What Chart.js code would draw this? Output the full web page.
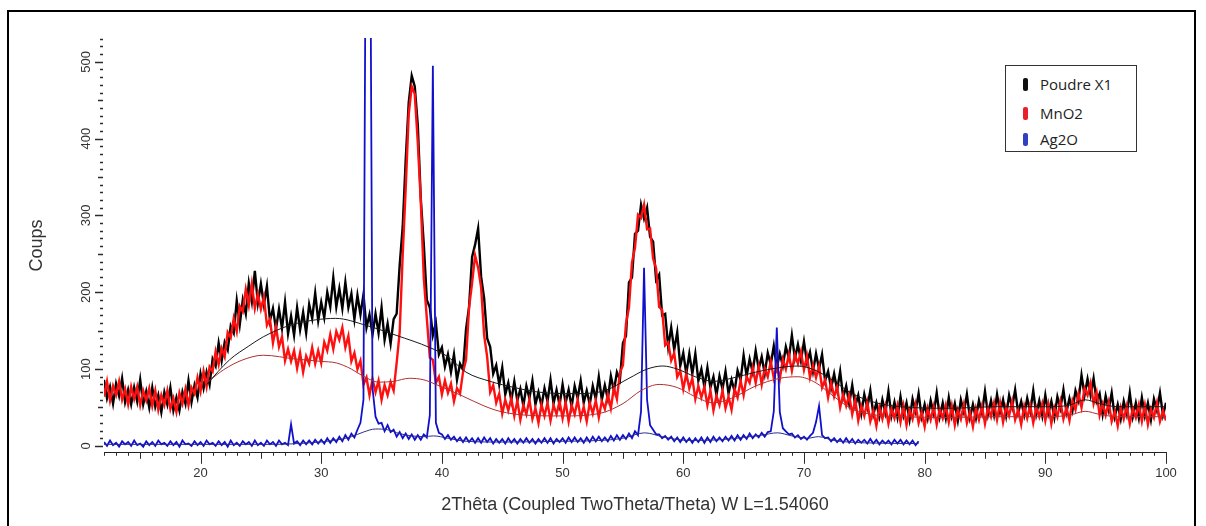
<!DOCTYPE html>
<html>
<head>
<meta charset="utf-8">
<title>Poudre X1 / MnO2 / Ag2O</title>
<script src="https://cdn.jsdelivr.net/npm/chart.js@4.4.1/dist/chart.umd.min.js"></script>
<style>
  html, body { margin: 0; padding: 0; background: #fff; }
  #wrap { position: relative; width: 1206px; height: 526px; overflow: hidden; }
  #frame { position: absolute; left: 7px; top: 10px; width: 1189px; height: 540px; border: 2px solid #000; box-sizing: border-box; pointer-events: none; }
  #legend { position: absolute; left: 1005px; top: 65px; width: 132px; height: 87px; border: 1px solid #333; box-sizing: border-box; background: #fff; font: 15px "Open Sans", sans-serif; color: #222; }
  .item { position: absolute; left: 17px; height: 20px; line-height: 20px; white-space: nowrap; }
  .mark { display: inline-block; width: 5px; height: 13px; border-radius: 2px; vertical-align: middle; margin-right: 12px; position: relative; top: -1px; }
</style>
</head>
<body>
<div id="wrap">
  <canvas id="xrdChart" width="1206" height="526"></canvas>
  <div id="frame"></div>
  <div id="legend">
    <div class="item" style="top:8px"><span class="mark" style="background:#111"></span>Poudre X1</div>
    <div class="item" style="top:37px"><span class="mark" style="background:#e8202a"></span>MnO2</div>
    <div class="item" style="top:63px"><span class="mark" style="background:#3040c0"></span>Ag2O</div>
  </div>
</div>
<script>
// scan: start angle and step (2theta, degrees)
const twoThetaStart = 12;
const twoThetaStep = 0.25;

// counts, one group per degree (4 steps)
const poudreX1 = [
  86,62,77,55, 81,65,88,57, 73,54,76,58, 86,54,71,50,
  76,51,66,44, 70,54,76,46, 63,46,70,55, 85,57,79,63,
  94,75,96,80, 113,104,134,111, 135,125,156,147, 189,158,190,172,
  212,188,228,186, 211,184,208,163, 179,152,178,153, 187,146,169,144,
  180,151,174,147, 184,166,199,163, 187,167,200,181, 219,181,205,179,
  213,180,198,165, 196,171,197,154, 171,145,172,147, 180,138,159,133,
  165,172,235,285, 372,447,482,468, 418,322,262,190, 180,144,160,119,
  128,103,119,96, 119,86,107,99, 152,181,246,262, 283,220,192,140,
  129,94,105,80, 102,67,82,59, 84,59,74,52, 78,62,85,54,
  70,52,75,58, 86,55,73,53, 80,56,73,51, 78,62,85,56,
  72,54,78,61, 90,60,79,61, 91,72,96,86, 134,143,213,219,
  276,280,314,296, 310,272,266,216, 223,170,172,129, 154,125,148,104,
  121,94,120,94, 120,85,100,77, 102,76,90,66, 91,74,97,68,
  86,71,98,86, 118,91,113,96, 124,100,116,94, 121,106,130,102,
  120,104,129,114, 144,114,132,111, 136,109,122,97, 120,100,119,85,
  97,75,94,73, 97,63,78,55, 79,52,66,42, 67,50,72,41,
  56,38,60,43, 71,39,57,37, 64,40,56,34, 61,45,68,38,
  54,36,59,42, 69,38,56,36, 63,39,55,33, 60,44,67,37,
  54,36,59,43, 71,41,59,40, 67,44,60,39, 66,50,73,43,
  58,40,62,45, 72,41,59,39, 66,42,58,37, 64,49,73,44,
  62,46,72,59, 92,66,87,66, 88,58,68,41, 65,47,69,38,
  54,35,58,41, 69,38,56,36, 63,39,56,34, 61,46,69,40,
  56
];

const mno2 = [
  64,84,59,78, 66,84,60,74, 54,77,61,77, 53,72,59,75,
  52,72,47,66, 53,72,48,62, 44,69,55,74, 53,76,68,89,
  71,97,77,103, 97,123,106,127, 116,148,141,166, 149,182,175,204,
  183,211,179,198, 178,194,157,165, 134,155,129,142, 111,126,110,124,
  101,121,96,117, 107,128,107,124, 108,135,124,145, 126,149,138,154,
  128,143,110,121, 100,111,80,89, 66,87,70,85, 60,79,66,83,
  72,108,148,248, 335,432,468,458, 395,318,218,166, 115,112,82,90,
  67,85,69,81, 58,75,68,96, 112,180,212,248, 232,206,144,116,
  70,79,56,68, 42,60,46,62, 39,59,34,53, 41,60,35,49,
  30,54,39,56, 33,53,41,58, 36,57,32,53, 41,60,36,51,
  32,56,42,59, 37,58,48,67, 49,76,61,95, 105,159,180,239,
  258,301,297,314, 282,283,244,231, 181,177,131,135, 111,121,90,98,
  74,94,75,88, 61,78,63,77, 53,72,46,65, 53,72,49,64,
  47,74,63,85, 66,90,82,102, 82,104,80,101, 90,110,88,104,
  87,113,100,119, 98,119,107,123, 99,117,89,105, 89,104,76,86,
  63,83,64,77, 50,67,52,66, 41,60,33,52, 39,57,32,46,
  26,50,35,52, 29,48,36,53, 31,52,27,47, 35,54,30,44,
  25,49,34,51, 28,48,36,53, 31,52,27,47, 35,54,30,44,
  25,49,34,52, 29,50,38,56, 34,56,31,51, 39,58,34,47,
  28,52,36,53, 30,50,38,55, 33,54,29,50, 38,58,35,50,
  33,59,47,68, 50,75,66,82, 55,70,40,55, 40,57,32,45,
  26,50,35,52, 29,49,37,54, 32,53,28,48, 37,56,32,46,
  33
];

// Ag2O scan stops at 79.5
const ag2o = [
  5,0,7,1, 4,-1,6,2, 5,0,7,1, 3,-1,6,1,
  5,0,7,2, 4,0,6,1, 5,-1,7,2, 3,0,6,1,
  5,0,7,2, 4,0,6,1, 5,-1,7,1, 4,0,6,2,
  5,0,7,1, 4,0,7,2, 5,0,7,2, 4,1,28,3,
  6,1,7,2, 7,2,8,3, 8,3,10,4, 10,5,12,6,
  14,8,16,11, 21,30,60,900, 900,75,38,29, 30,19,27,18,
  21,12,18,10, 16,9,15,8, 14,8,15,11, 40,495,30,17,
  15,9,14,8, 12,6,11,5, 11,5,10,4, 10,4,11,5,
  10,3,9,4, 9,3,10,4, 9,3,9,4, 10,4,9,3,
  9,4,10,4, 10,3,9,5, 10,4,11,5, 11,5,10,4,
  11,5,12,6, 12,6,11,6, 13,7,14,8, 14,9,16,10,
  19,14,45,232, 60,27,21,15, 15,10,13,8, 12,6,11,5,
  11,5,10,4, 10,5,11,4, 11,5,12,6, 11,6,12,7,
  13,7,14,8, 14,9,16,10, 15,11,17,12, 18,19,45,154,
  44,23,19,15, 16,11,14,9, 12,8,13,17, 31,52,14,10,
  11,6,10,5, 9,4,10,4, 9,3,8,4, 8,3,9,3,
  8,2,7,3, 7,2,8,3, 8,2,7,2, 7,1,6
];

// fitted amorphous backgrounds [2theta, counts]
const poudreX1Background = [
  [20.5,80],[22.4,112],[24,130],[25.2,142],[27.4,157],[29.5,164],[31.2,166],[33.7,157],
  [36.2,144],[39,128],[40.5,116],[42,96],[44,84],[46,76],[48,70],[51,68],[53.5,72],
  [55.5,88],[57,100],[58.3,104],[59.5,100],[61,90],[62.5,84],[64,88],[66,96],[68,102],
  [69.5,104],[71,98],[72.5,84],[74,68],[76,56],[78,51],[82,49],[86,51],[90,51],[92,53],
  [93.3,60],[94.5,55],[96,51],[100,51]
];
const mno2Background = [
  [20.5,82],[21.9,99],[23.5,112],[25.2,118],[27.9,113],[30,110],[31.25,108],[32.5,100],
  [33.45,91],[34.8,83],[36,84],[37.3,88],[38.5,86],[39.5,80],[41.7,65],[43.5,52],[44.8,45],
  [47,40],[50,39],[53,42],[55,55],[56.5,72],[58,80],[59.5,76],[61,64],[62.5,56],[64,62],
  [66,78],[68,88],[69.5,90],[71,82],[72.5,64],[74,48],[76,40],[78,38],[82,37],[86,38],
  [90,38],[92,40],[93.3,45],[94.5,41],[96,38],[100,38]
];
const ag2oBackground = [
  [12,2],[26,2],[29,4],[31,7],[32.5,12],[33.5,18],[34.5,22],[35.5,21],[36.5,16],[37.5,13],
  [38.5,12],[39.3,13],[40.5,10],[42,6],[45,5],[50,6],[53,7],[55,10],[56.8,17],[58.5,11],
  [60.5,7],[63,8],[65,11],[66.5,14],[67.8,17],[69,13],[70.3,10],[71.2,12],[72.5,7],[75,4],
  [79.5,3]
];

const yTickLabels = [0, 100, 200, 300, 400, 500];

function scanPoints(values) {
    return values.map((v, i) => ({ x: twoThetaStart + i * twoThetaStep, y: v }));
}
function pairPoints(list) {
    return list.map(([x, y]) => ({ x, y }));
}

// small ticks + rotated y labels, like the diffractometer software
const axisDecor = {
    id: 'axisDecor',
    afterDraw(chart) {
        const {ctx, chartArea: {left, bottom}, scales: {x, y}} = chart;
        ctx.save();
        ctx.strokeStyle = '#2b2b2b';
        ctx.lineWidth = 1;
        for (let v = 12; v <= 100; v++) {
            const px = Math.round(x.getPixelForValue(v)) + 0.5;
            const len = v % 10 === 0 ? 11 : (v % 5 === 0 ? 6 : 3);
            ctx.beginPath();
            ctx.moveTo(px, bottom);
            ctx.lineTo(px, bottom + len);
            ctx.stroke();
        }
        ctx.lineWidth = 1.5;
        for (let v = 0; v <= 530; v += 10) {
            const py = Math.round(y.getPixelForValue(v)) + 0.5;
            const len = v % 100 === 0 ? 8 : (v % 50 === 0 ? 5 : 3);
            ctx.beginPath();
            ctx.moveTo(left - 1 - len, py);
            ctx.lineTo(left - 1, py);
            ctx.stroke();
        }
        ctx.fillStyle = '#333';
        ctx.font = '13px "Liberation Sans", Arial, sans-serif';
        ctx.textAlign = 'center';
        ctx.textBaseline = 'middle';
        yTickLabels.forEach(v => {
            ctx.save();
            ctx.translate(86, y.getPixelForValue(v));
            ctx.rotate(-Math.PI / 2);
            ctx.fillText(String(v), 0, 0);
            ctx.restore();
        });
        ctx.restore();
    }
};

const ctx = document.getElementById('xrdChart').getContext('2d');

new Chart(ctx, {
    type: 'line',
    data: {
        datasets: [
            { label: 'Poudre X1 fond', data: pairPoints(poudreX1Background), borderColor: '#1a1a1a', borderWidth: 1, cubicInterpolationMode: 'monotone', order: 0 },
            { label: 'MnO2 fond', data: pairPoints(mno2Background), borderColor: '#b03030', borderWidth: 1, cubicInterpolationMode: 'monotone', order: 0 },
            { label: 'Ag2O fond', data: pairPoints(ag2oBackground), borderColor: '#2b2b8a', borderWidth: 1, cubicInterpolationMode: 'monotone', order: 0 },
            { label: 'Ag2O', data: scanPoints(ag2o), borderColor: '#1010cc', borderWidth: 1.8, order: 1 },
            { label: 'MnO2', data: scanPoints(mno2), borderColor: '#ff1010', borderWidth: 2.4, order: 2 },
            { label: 'Poudre X1', data: scanPoints(poudreX1), borderColor: '#000000', borderWidth: 2.4, order: 3 }
        ]
    },
    options: {
        responsive: false,
        animation: false,
        devicePixelRatio: 1,
        elements: { point: { radius: 0 }, line: { tension: 0 } },
        layout: { padding: { left: 26, right: 40, top: 38, bottom: 10 } },
        plugins: { legend: { display: false }, tooltip: { enabled: false } },
        scales: {
            x: {
                type: 'linear',
                min: 12,
                max: 100,
                grid: { display: false, drawTicks: false },
                border: { display: true, color: '#222', width: 1 },
                ticks: {
                    stepSize: 10,
                    includeBounds: false,
                    autoSkip: false,
                    maxRotation: 0,
                    padding: 13,
                    color: '#333',
                    font: { family: '"Liberation Sans", Arial, sans-serif', size: 13 }
                },
                title: {
                    display: true,
                    text: '2Thêta (Coupled TwoTheta/Theta) W L=1.54060',
                    color: '#333',
                    font: { family: '"Liberation Sans", Arial, sans-serif', size: 18 },
                    padding: { top: 0, bottom: 0 }
                }
            },
            y: {
                min: -9,
                max: 531,
                grid: { display: false, drawTicks: false },
                border: { display: false },
                ticks: { display: false },
                title: {
                    display: true,
                    text: 'Coups',
                    color: '#333',
                    font: { family: '"Liberation Sans", Arial, sans-serif', size: 18 },
                    padding: { top: 0, bottom: 56.4 }
                }
            }
        }
    },
    plugins: [axisDecor]
});
</script>
</body>
</html>
